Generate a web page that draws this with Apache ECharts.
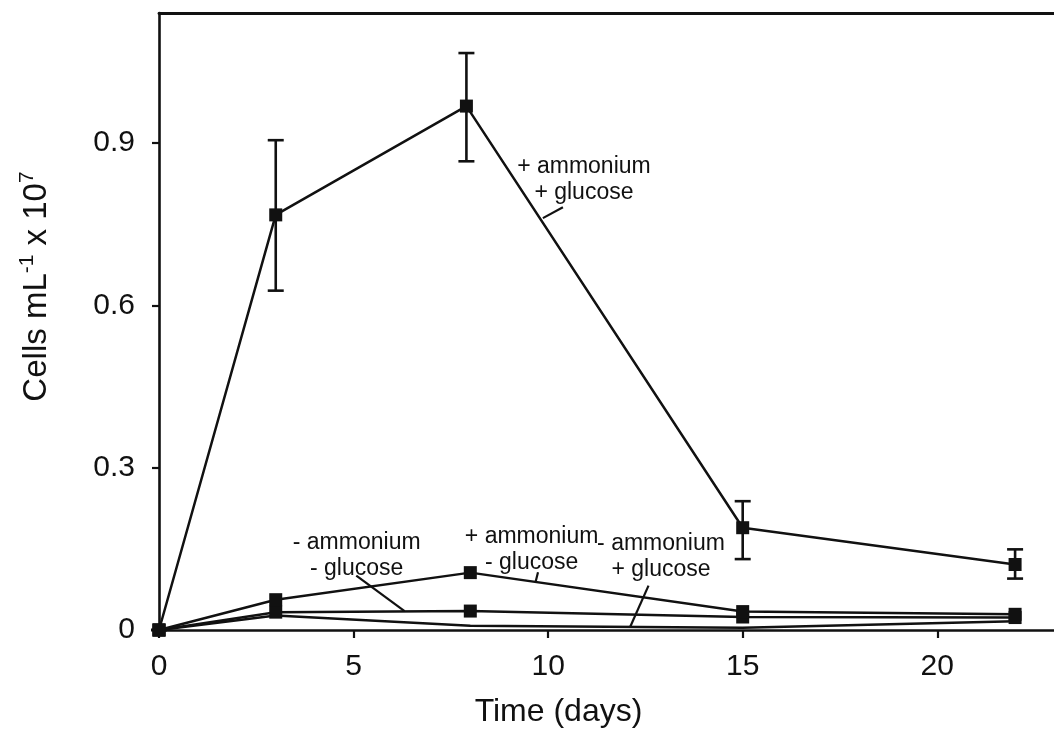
<!DOCTYPE html>
<html>
<head>
<meta charset="utf-8">
<script src="https://cdn.jsdelivr.net/npm/echarts@6/dist/echarts.min.js"></script>
<style>
  html, body { margin: 0; padding: 0; background: #fff; }
  #chart { width: 1054px; height: 729px; }
</style>
</head>
<body>
<div id="chart"></div>
<script>
// Sampling days
const daysMain = [0, 3, 7.9, 15, 22];
const daysLow = [0, 3, 8, 15, 22];

// Cell density, cells mL^-1 x 10^7
const ammGlc = [0, 0.767, 0.968, 0.189, 0.121];      // + ammonium + glucose
const ammGlcLow = [0, 0.627, 0.866, 0.131, 0.095];   // error bar bottoms
const ammGlcHigh = [0, 0.905, 1.066, 0.238, 0.149];  // error bar tops
const ammNoGlc = [0, 0.056, 0.106, 0.034, 0.029];    // + ammonium - glucose
const noAmmNoGlc = [0, 0.033, 0.035, 0.024, 0.023];  // - ammonium - glucose
const noAmmGlc = [0, 0.027, 0.008, 0.004, 0.016];    // - ammonium + glucose

// Axis tick values
const xTicks = [0, 5, 10, 15, 20];
const yTicks = [0, 0.3, 0.6, 0.9];

// Treatment labels: text centre (day, value) and leader line ends
const labelTexts = [
  '+ ammonium\n+ glucose',
  '- ammonium\n- glucose',
  '+ ammonium\n- glucose',
  '- ammonium\n+ glucose'
];
const labelAt = [[10.92, 0.833], [5.08, 0.137], [9.575, 0.148], [12.9, 0.136]];
const leaderFrom = [[10.38, 0.781], [5.07, 0.1006], [9.74, 0.1067], [12.58, 0.082]];
const leaderTo = [[9.865, 0.761], [6.31, 0.035], [9.68, 0.0898], [12.11, 0.006]];

const FONT = '"Liberation Sans", Arial, Helvetica, sans-serif';
const INK = '#111';

const pairs = (xs, ys) => xs.map((x, i) => [x, ys[i]]);

const lineStyle = { color: INK, width: 2.5 };

function lineSeries(name, data, symbol) {
  return {
    name: name,
    type: 'line',
    data: data,
    symbol: symbol,
    symbolSize: 13,
    showSymbol: symbol !== 'none',
    itemStyle: { color: INK },
    lineStyle: lineStyle,
    z: 3
  };
}

const errorData = daysMain.map((d, i) => [d, ammGlcLow[i], ammGlcHigh[i]]);
const labelData = labelTexts.map((t, i) => [
  labelAt[i][0], labelAt[i][1],
  leaderFrom[i][0], leaderFrom[i][1],
  leaderTo[i][0], leaderTo[i][1], i
]);

const chart = echarts.init(document.getElementById('chart'), null, { renderer: 'canvas' });

chart.setOption({
  animation: false,
  backgroundColor: '#fff',
  grid: { left: 159, right: 0, top: 13, bottom: 99, containLabel: false, outerBoundsMode: 'none' },
  xAxis: [{
    type: 'value',
    min: 0,
    max: 23,
    interval: 5,
    name: 'Time (days)',
    nameLocation: 'middle',
    nameGap: 66,
    nameTextStyle: { fontFamily: FONT, fontSize: 32, color: INK, padding: [0, 96, 0, 0] },
    axisLine: { show: true, onZero: false, lineStyle: { color: INK, width: 2.6 } },
    axisTick: { show: true, length: 8, customValues: xTicks, lineStyle: { color: INK, width: 2.2 } },
    axisLabel: { customValues: xTicks, fontFamily: FONT, fontSize: 30, color: INK, margin: 22 },
    splitLine: { show: false }
  }, {
    type: 'value',
    position: 'top',
    min: 0,
    max: 23,
    axisLine: { show: true, onZero: false, lineStyle: { color: INK, width: 2.8 } },
    axisTick: { show: false },
    axisLabel: { show: false },
    splitLine: { show: false }
  }],
  yAxis: {
    type: 'value',
    min: 0,
    max: 1.14,
    interval: 0.3,
    name: '{a|Cells mL}{s|-1}{a| x 10}{s|7}',
    nameLocation: 'middle',
    nameGap: 102,
    nameTextStyle: {
      padding: [0, 0, 0, 70],
      rich: {
        a: { fontFamily: FONT, fontSize: 33, color: INK, lineHeight: 40 },
        s: { fontFamily: FONT, fontSize: 21, color: INK, verticalAlign: 'top', lineHeight: 21 }
      }
    },
    axisLine: { show: true, onZero: false, lineStyle: { color: INK, width: 2.6 } },
    axisTick: { show: true, length: 7, customValues: yTicks, lineStyle: { color: INK, width: 2.2 } },
    axisLabel: {
      customValues: yTicks,
      fontFamily: FONT, fontSize: 30, color: INK, margin: 24,
      formatter: v => (v === 0 ? '0' : v.toFixed(1))
    },
    splitLine: { show: false }
  },
  series: [
    lineSeries('- ammonium + glucose', pairs(daysLow, noAmmGlc), 'none'),
    lineSeries('- ammonium - glucose', pairs(daysLow, noAmmNoGlc), 'rect'),
    lineSeries('+ ammonium - glucose', pairs(daysLow, ammNoGlc), 'rect'),
    lineSeries('+ ammonium + glucose', pairs(daysMain, ammGlc), 'rect'),
    {
      name: 'error',
      type: 'custom',
      data: errorData,
      encode: { x: 0, y: [1, 2] },
      z: 2,
      renderItem: function (params, api) {
        const x = api.value(0);
        const lo = api.coord([x, api.value(1)]);
        const hi = api.coord([x, api.value(2)]);
        const half = 8;
        const st = { stroke: INK, lineWidth: 2.6 };
        return {
          type: 'group',
          children: [
            { type: 'line', shape: { x1: lo[0], y1: lo[1], x2: hi[0], y2: hi[1] }, style: st },
            { type: 'line', shape: { x1: lo[0] - half, y1: lo[1], x2: lo[0] + half, y2: lo[1] }, style: st },
            { type: 'line', shape: { x1: hi[0] - half, y1: hi[1], x2: hi[0] + half, y2: hi[1] }, style: st }
          ]
        };
      }
    },
    {
      name: 'labels',
      type: 'custom',
      data: labelData,
      encode: { x: 0, y: 1 },
      z: 4,
      clip: false,
      renderItem: function (params, api) {
        const at = api.coord([api.value(0), api.value(1)]);
        const a = api.coord([api.value(2), api.value(3)]);
        const b = api.coord([api.value(4), api.value(5)]);
        const idx = api.value(6);
        return {
          type: 'group',
          children: [
            {
              type: 'line',
              shape: { x1: a[0], y1: a[1], x2: b[0], y2: b[1] },
              style: { stroke: INK, lineWidth: 2.2 }
            },
            {
              type: 'text',
              x: at[0],
              y: at[1],
              style: {
                text: labelTexts[idx],
                fill: INK,
                fontFamily: FONT,
                fontSize: 23,
                lineHeight: 26,
                align: 'center',
                verticalAlign: 'middle'
              }
            }
          ]
        };
      }
    }
  ]
});
</script>
</body>
</html>
